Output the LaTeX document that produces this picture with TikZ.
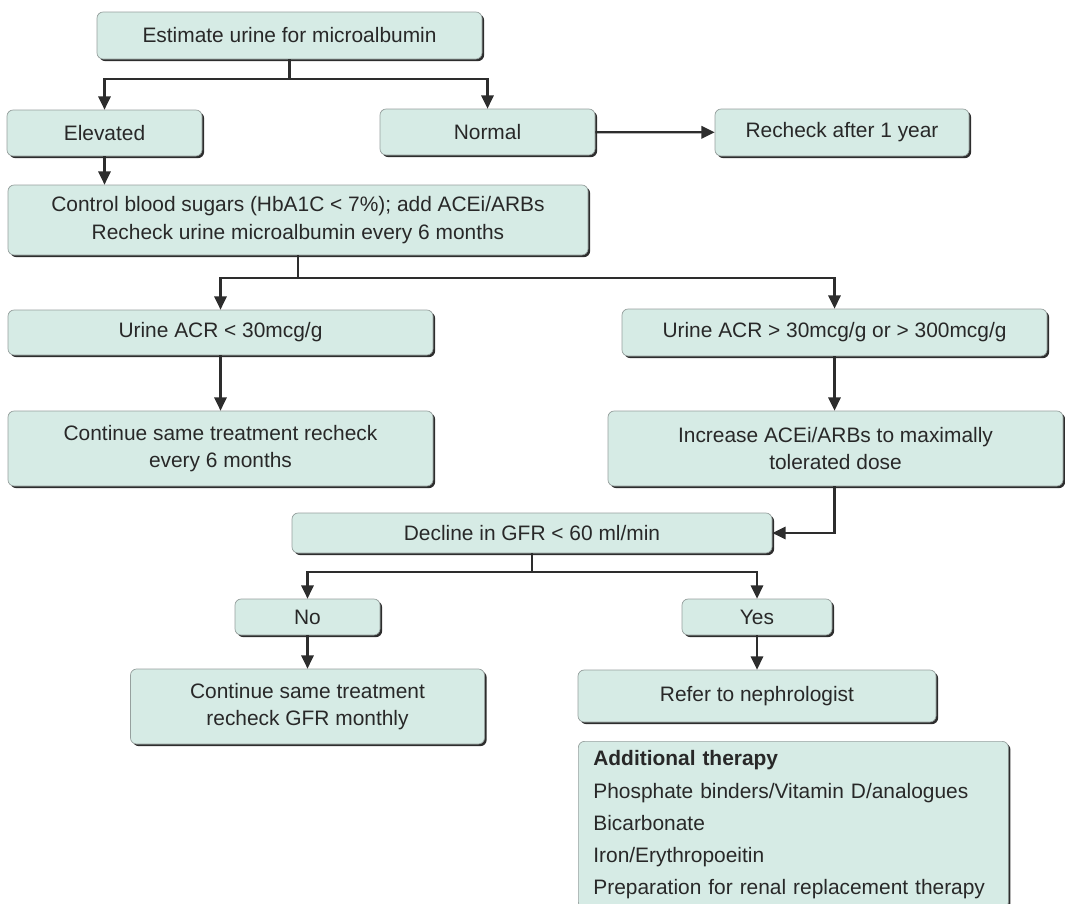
\documentclass[tikz,border=0pt]{standalone}
\usepackage{fontspec}
\setmainfont{Liberation Sans}
\usepackage{tikz}
\usetikzlibrary{arrows.meta, shadows}
\definecolor{boxfill}{RGB}{214,235,229}
\definecolor{boxline}{RGB}{150,160,158}
\definecolor{inkline}{RGB}{45,45,45}
\definecolor{inktext}{RGB}{40,40,40}
\newlength\unitpx
\setlength\unitpx{0.02cm}
\tikzset{
    flowbox/.style={rectangle, draw=boxline, line width=0.4pt, fill=boxfill, rounded corners=3.5pt,
        drop shadow={shadow xshift=1.2pt, shadow yshift=-1.2pt, fill=inkline, opacity=1},
        align=center, inner sep=0pt, text=inktext, font=\fontsize{11.9}{15.5}\selectfont},
    listbox/.style={flowbox, align=left, anchor=north west, inner xsep=15\unitpx,
        font=\fontsize{11.9}{18.3}\selectfont},
    link/.style={draw=inkline, line width=1.3pt},
    arrow/.style={link, -{Triangle[length=7.5pt, width=7pt]}}
}

\begin{document}
\begin{tikzpicture}[x=0.02cm, y=-0.02cm]
    \useasboundingbox (0,0) rectangle (1065,903);

    % Top of the chart
    \node[flowbox, minimum width=385\unitpx, minimum height=47\unitpx] (estimate) at (289.5,35.5) {Estimate urine for microalbumin};
    \node[flowbox, minimum width=195\unitpx, minimum height=46\unitpx] (elevated) at (104.5,133) {Elevated};
    \node[flowbox, minimum width=215\unitpx, minimum height=46\unitpx] (normal) at (487.5,132) {Normal};
    \node[flowbox, minimum width=254\unitpx, minimum height=47\unitpx] (recheck) at (842,132.5) {Recheck after 1 year};
    \node[flowbox, minimum width=580\unitpx, minimum height=70\unitpx] (control) at (298,220)
        {Control blood sugars (HbA1C < 7\%); add ACEi/ARBs\\Recheck urine microalbumin every 6 months};

    % ACR branches
    \node[flowbox, minimum width=425\unitpx, minimum height=45\unitpx] (acrlow) at (220.5,332.5) {Urine ACR < 30mcg/g};
    \node[flowbox, minimum width=425\unitpx, minimum height=47\unitpx] (acrhigh) at (834.5,332.5) {Urine ACR > 30mcg/g or > 300mcg/g};
    \node[flowbox, minimum width=425\unitpx, minimum height=75\unitpx] (samesix) at (220.5,448.5)
        {Continue same treatment recheck\\every 6 months};
    \node[flowbox, minimum width=455\unitpx, minimum height=75\unitpx] (increase) at (835.5,448.5)
        {Increase ACEi/ARBs to maximally\\tolerated dose};

    % GFR branches
    \node[flowbox, minimum width=480\unitpx, minimum height=40\unitpx] (decline) at (532,533) {Decline in GFR < 60 ml/min};
    \node[flowbox, minimum width=145\unitpx, minimum height=36\unitpx] (no) at (307.5,617) {No};
    \node[flowbox, minimum width=150\unitpx, minimum height=36\unitpx] (yes) at (757,617) {Yes};
    \node[flowbox, minimum width=354\unitpx, minimum height=75\unitpx] (samegfr) at (307.5,706.5)
        {Continue same treatment\\recheck GFR monthly};
    \node[flowbox, minimum width=358\unitpx, minimum height=52\unitpx] (refer) at (757,696) {Refer to nephrologist};
    \node[listbox, minimum width=430\unitpx, minimum height=167\unitpx, text width=400\unitpx] (therapy) at (578,741)
        {\textbf{Additional therapy}\\
         Phosphate binders/Vitamin D/analogues\\
         Bicarbonate\\
         Iron/Erythropoeitin\\
         Preparation for renal replacement therapy};

    % Connections
    \coordinate (split1) at (289.5,79);
    \coordinate (split2) at (298,278);
    \coordinate (split3) at (532,572);
    \draw[link] (estimate.south) -- (split1);
    \draw[arrow] (split1) -| (elevated.north);
    \draw[arrow] (split1) -| (normal.north);
    \draw[arrow] (normal) -- (recheck);
    \draw[arrow] (elevated.south) -- (elevated.south |- control.north);
    \draw[link] (control.south) -- (split2);
    \draw[arrow] (split2) -| (acrlow.north);
    \draw[arrow] (split2) -| (acrhigh.north);
    \draw[arrow] (acrlow) -- (samesix);
    \draw[arrow] (acrhigh.south) -- (acrhigh.south |- increase.north);
    \draw[arrow] (increase.south -| acrhigh) |- (decline.east);
    \draw[link] (decline.south) -- (split3);
    \draw[arrow] (split3) -| (no.north);
    \draw[arrow] (split3) -| (yes.north);
    \draw[arrow] (no) -- (samegfr);
    \draw[arrow] (yes) -- (refer);

\end{tikzpicture}
\end{document}
